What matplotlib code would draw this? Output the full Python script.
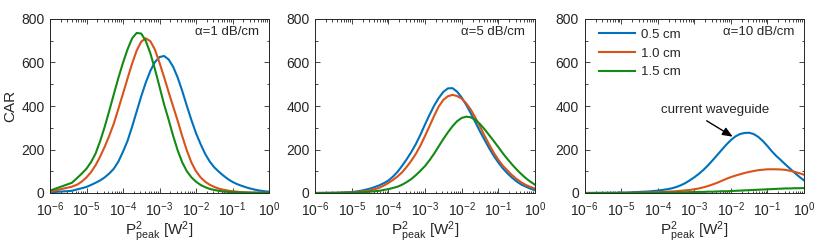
import numpy as np
import matplotlib
matplotlib.use("Agg")
import matplotlib.pyplot as plt
from matplotlib.ticker import LogLocator, MultipleLocator, LogFormatterMathtext

plt.rcParams['font.family'] = ['Liberation Sans', 'DejaVu Sans']
plt.rcParams['mathtext.fontset'] = 'custom'
plt.rcParams['mathtext.rm'] = 'Liberation Sans'
plt.rcParams['mathtext.it'] = 'Liberation Sans:italic'
plt.rcParams['mathtext.bf'] = 'Liberation Sans:bold'

# log10 of P_peak^2 [W^2]
log_p = [-6, -5.4, -5.25, -5.125, -5, -4.875, -4.75, -4.625, -4.5,
         -4.375, -4.25, -4.125, -4, -3.875, -3.75, -3.625, -3.5, -3.375,
         -3.25, -3.125, -3, -2.875, -2.75, -2.625, -2.5, -2.375, -2.25,
         -2.125, -2, -1.875, -1.75, -1.625, -1.5, -1.375, -1.25, -1.125,
         -1, -0.875, -0.75, -0.625, -0.5, -0.375, -0.25, -0.125, 0]

lengths = ['0.5 cm', '1.0 cm', '1.5 cm']
alphas = ['α=1 dB/cm', 'α=5 dB/cm', 'α=10 dB/cm']

# alpha = 1 dB/cm
car_a1_05 = [3, 10, 17, 22, 28, 37, 47, 58, 72,
             90, 112, 145, 190, 240, 305, 375, 445, 508,
             562, 602, 625, 630, 614, 580, 530, 468, 400,
             335, 275, 225, 180, 145, 118, 98, 80, 64,
             51, 41, 33, 26, 20, 15, 11, 8, 6]
car_a1_10 = [6, 29, 39, 53, 72, 96, 128, 168, 213,
             264, 320, 388, 457, 527, 595, 655, 696, 711,
             698, 659, 599, 533, 464, 397, 331, 260, 195,
             140, 100, 72, 52, 38, 28, 20, 15, 11,
             8, 6, 4, 3, 2, 2, 1, 1, 1]
car_a1_15 = [11, 47, 70, 90, 112, 142, 182, 239, 305,
             379, 455, 530, 599, 661, 711, 736, 733, 699,
             642, 569, 489, 408, 337, 262, 195, 140, 100,
             72, 52, 37, 27, 19, 14, 10, 7, 5,
             4, 3, 2, 2, 1, 1, 1, 0, 0]

# alpha = 5 dB/cm
car_a5_05 = [0, 1, 2, 3, 4, 7, 10, 15, 20,
             27, 35, 45, 57, 75, 97, 125, 155, 188,
             225, 268, 315, 360, 402, 437, 465, 481, 482,
             466, 439, 405, 366, 325, 283, 244, 206, 171,
             140, 113, 90, 70, 53, 39, 29, 20, 13]
car_a5_10 = [0, 1, 1, 2, 3, 4, 6, 9, 12,
             17, 24, 34, 46, 60, 76, 95, 120, 148,
             180, 218, 262, 308, 355, 398, 428, 445, 451,
             446, 434, 412, 383, 346, 306, 263, 223, 185,
             153, 125, 103, 82, 64, 49, 37, 28, 20]
car_a5_15 = [0, 0, 1, 1, 2, 2, 3, 4, 6,
             8, 10, 14, 18, 23, 29, 38, 50, 64,
             82, 102, 124, 151, 181, 215, 248, 279, 307,
             330, 345, 351, 348, 336, 317, 293, 266, 239,
             211, 182, 156, 131, 108, 87, 68, 52, 38]

# alpha = 10 dB/cm
car_a10_05 = [0, 1, 1, 1, 2, 2, 3, 4, 5,
              6, 7, 9, 11, 14, 17, 21, 27, 35,
              45, 58, 72, 88, 106, 127, 150, 174, 198,
              222, 243, 260, 271, 276, 277, 271, 258, 239,
              216, 191, 169, 150, 130, 111, 92, 74, 58]
car_a10_10 = [0, 0, 0, 0, 1, 1, 1, 1, 2,
              2, 3, 3, 4, 5, 6, 7, 8, 10,
              12, 14, 17, 21, 26, 32, 39, 47, 56,
              65, 73, 80, 86, 92, 97, 101, 105, 107,
              109, 109, 109, 108, 106, 102, 97, 91, 84]
car_a10_15 = [0, 0, 0, 0, 0, 0, 0, 1, 1,
              1, 1, 1, 1, 2, 2, 2, 2, 3,
              3, 4, 4, 5, 5, 6, 6, 7, 8,
              8, 9, 10, 11, 12, 13, 14, 15, 16,
              17, 18, 19, 20, 21, 21, 22, 22, 23]

panels = [
    [car_a1_05, car_a1_10, car_a1_15],
    [car_a5_05, car_a5_10, car_a5_15],
    [car_a10_05, car_a10_10, car_a10_15],
]
colors = ['#0072BD', '#D95319', '#138A13']
txt = '#262626'

x = 10.0 ** np.array(log_p)

fig = plt.figure(figsize=(8.17, 2.48), dpi=100)
W, H = 817, 248
lefts = [50, 315, 584.5]
widths = [219, 220, 219.5]
top, bottom = 19, 193

axes = []
for i, (l, w) in enumerate(zip(lefts, widths)):
    ax = fig.add_axes([l / W, (H - bottom) / H, w / W, (bottom - top) / H])
    for j, series in enumerate(panels[i]):
        ax.plot(x, series, color=colors[j], lw=1.5, label=lengths[j])
    ax.set_xscale('log')
    ax.set_xlim(1e-6, 1)
    ax.set_ylim(0, 800)
    ax.xaxis.set_major_locator(LogLocator(base=10, numticks=10))
    ax.xaxis.set_minor_locator(LogLocator(base=10, subs=np.arange(2, 10), numticks=20))
    ax.xaxis.set_major_formatter(LogFormatterMathtext())
    ax.yaxis.set_major_locator(MultipleLocator(200))
    ax.yaxis.set_minor_locator(MultipleLocator(100))
    ax.tick_params(which='both', direction='in', top=True, right=True,
                   colors=txt, labelsize=10, width=0.6)
    ax.tick_params(which='major', length=3.5, pad=4)
    ax.tick_params(which='minor', length=1.8)
    ax.tick_params(axis='x', which='major', pad=5)
    for s in ax.spines.values():
        s.set_linewidth(0.7)
        s.set_color(txt)
    ax.set_xlabel(r'P$^{2}_{\rm peak}$ [W$^{2}$]', fontsize=11, color=txt, labelpad=1)
    ax.text(0.955, 0.925, alphas[i], transform=ax.transAxes, ha='right', va='center',
            fontsize=9.5, color=txt)
    axes.append(ax)

axes[0].set_ylabel('CAR', fontsize=11, color=txt, labelpad=3)

leg = axes[2].legend(loc='upper left', bbox_to_anchor=(0.066, 0.945), frameon=False,
                     fontsize=9.5, handlelength=2.7, handletextpad=0.5,
                     labelspacing=0.5, borderaxespad=0.0, borderpad=0.0)
for t in leg.get_texts():
    t.set_color(txt)

ax3 = axes[2]
ax3.annotate('', xy=(10 ** -1.95, 259), xytext=(10 ** -2.66, 332),
             arrowprops=dict(arrowstyle='-|>,head_length=0.6,head_width=0.25',
                             color='black', lw=1.0, shrinkA=0, shrinkB=0))
ax3.text(10 ** -2.42, 380, 'current waveguide', ha='center', va='center',
         fontsize=9.5, color=txt)

fig.savefig('out.png', dpi=100)
